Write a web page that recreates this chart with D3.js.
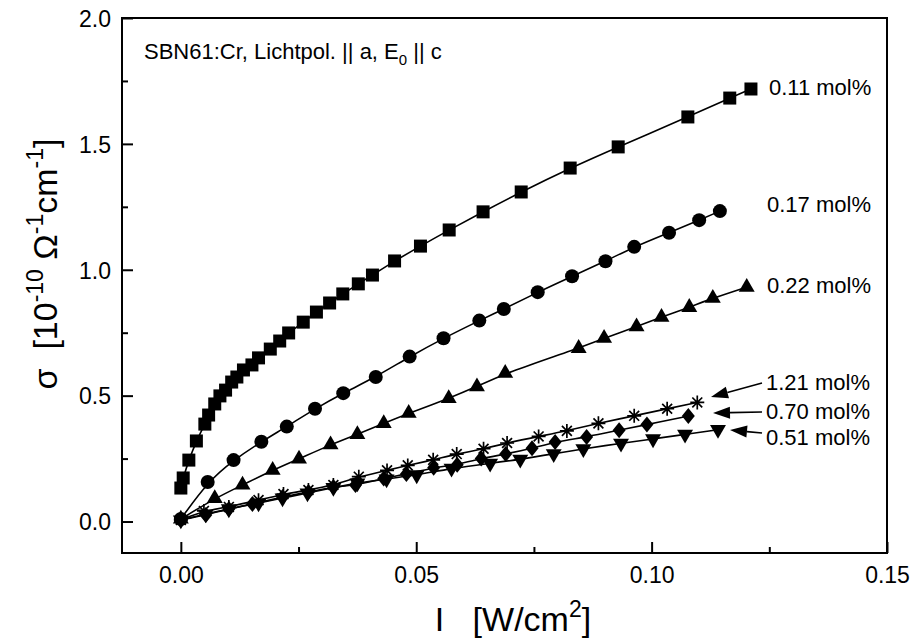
<!DOCTYPE html>
<html>
<head>
<meta charset="utf-8">
<script src="https://cdn.jsdelivr.net/npm/d3@7"></script>
<style>
  body { margin: 0; background: #fff; }
  text { font-family: Arial, "Liberation Sans", sans-serif; fill: #000; white-space: pre; }
</style>
</head>
<body>
<script>
var width = 915,
    height = 639,
    margin = {top: 18, right: 28, bottom: 86, left: 122};

// tick values
var xTicks = [0, 0.05, 0.10, 0.15],
    xMinor = [0.025, 0.075, 0.125],
    yTicks = [0, 0.5, 1.0, 1.5, 2.0],
    yMinor = [0.25, 0.75, 1.25, 1.75];

// 0.11 mol%  (squares)
var x011 = [0, 0.0005, 0.0017, 0.0033, 0.0051, 0.0059, 0.0072, 0.0083, 0.0095, 0.0108, 0.0119, 0.0133,
            0.0151, 0.0165, 0.019, 0.021, 0.0229, 0.026, 0.0288, 0.0316, 0.0344, 0.0377, 0.0407, 0.0454,
            0.0509, 0.057, 0.0642, 0.0723, 0.0827, 0.0929, 0.1077, 0.1166, 0.1211];
var y011 = [0.133, 0.173, 0.244, 0.32, 0.387, 0.423, 0.467, 0.499, 0.522, 0.554, 0.574, 0.602,
            0.622, 0.65, 0.685, 0.717, 0.749, 0.792, 0.832, 0.868, 0.904, 0.944, 0.979, 1.035,
            1.094, 1.158, 1.23, 1.309, 1.404, 1.488, 1.607, 1.682, 1.718];

// 0.17 mol%  (circles)
var x017 = [0, 0.0057, 0.0112, 0.0171, 0.0225, 0.0285, 0.0345, 0.0414, 0.0486, 0.0558,
            0.0634, 0.0686, 0.0758, 0.0831, 0.0902, 0.0963, 0.1037, 0.1101, 0.1145];
var y017 = [0.01, 0.157, 0.244, 0.317, 0.377, 0.448, 0.51, 0.574, 0.655, 0.728,
            0.798, 0.844, 0.911, 0.974, 1.034, 1.091, 1.147, 1.197, 1.233];

// 0.22 mol%  (triangles)
var x022 = [0, 0.0072, 0.0131, 0.0195, 0.0251, 0.0318, 0.0375, 0.0431, 0.0484, 0.0569,
            0.0629, 0.0689, 0.0845, 0.0899, 0.0968, 0.1021, 0.108, 0.113, 0.1202];
var y022 = [0.01, 0.092, 0.145, 0.204, 0.249, 0.305, 0.346, 0.39, 0.43, 0.489,
            0.536, 0.589, 0.688, 0.728, 0.774, 0.812, 0.851, 0.887, 0.931];

// 1.21 mol%  (asterisks)
var x121 = [0, 0.0049, 0.0102, 0.0165, 0.0218, 0.0271, 0.0324, 0.0378, 0.0438, 0.0482,
            0.0536, 0.0586, 0.0643, 0.0693, 0.076, 0.082, 0.0887, 0.0963, 0.1033, 0.1097];
var y121 = [0.006, 0.042, 0.058, 0.085, 0.109, 0.125, 0.145, 0.178, 0.203, 0.223,
            0.245, 0.268, 0.289, 0.312, 0.338, 0.36, 0.39, 0.42, 0.448, 0.473];

// 0.70 mol%  (diamonds)
var x070 = [0, 0.0053, 0.0102, 0.0152, 0.0216, 0.0271, 0.0324, 0.0371, 0.0431, 0.0479,
            0.0537, 0.0587, 0.0638, 0.069, 0.0746, 0.0795, 0.0862, 0.0931, 0.099, 0.1078];
var y070 = [0.006, 0.026, 0.05, 0.07, 0.097, 0.117, 0.137, 0.145, 0.171, 0.189,
            0.214, 0.226, 0.25, 0.268, 0.291, 0.316, 0.336, 0.363, 0.385, 0.419];

// 0.51 mol%  (down triangles)
var x051 = [0, 0.0053, 0.0102, 0.0165, 0.0216, 0.0269, 0.0324, 0.0375, 0.0437, 0.0501,
            0.0575, 0.0657, 0.0721, 0.0792, 0.0855, 0.0935, 0.1003, 0.1071, 0.1141];
var y051 = [0.006, 0.03, 0.05, 0.073, 0.093, 0.113, 0.135, 0.153, 0.169, 0.185,
            0.211, 0.231, 0.247, 0.269, 0.289, 0.311, 0.328, 0.346, 0.365];

var names = ["0.11 mol%", "0.17 mol%", "0.22 mol%", "1.21 mol%", "0.70 mol%", "0.51 mol%"];

var series = [
  {name: names[0], xs: x011, ys: y011, sym: "square"},
  {name: names[1], xs: x017, ys: y017, sym: "circle"},
  {name: names[2], xs: x022, ys: y022, sym: "triangle"},
  {name: names[3], xs: x121, ys: y121, sym: "star"},
  {name: names[4], xs: x070, ys: y070, sym: "diamond"},
  {name: names[5], xs: x051, ys: y051, sym: "down"}
];

var svg = d3.select("body").append("svg")
    .attr("width", width)
    .attr("height", height);

var x = d3.scaleLinear().domain([-0.0125, 0.15]).range([margin.left, width - margin.right]);
var y = d3.scaleLinear().domain([-0.125, 2.0]).range([height - margin.bottom, margin.top]);

// frame
svg.append("rect")
    .attr("x", x.range()[0]).attr("y", y.range()[1])
    .attr("width", x.range()[1] - x.range()[0])
    .attr("height", y.range()[0] - y.range()[1])
    .attr("fill", "none").attr("stroke", "#000").attr("stroke-width", 2);

// axes, ticks pointing inward
var xAxis = svg.append("g")
    .attr("transform", "translate(0," + y.range()[0] + ")")
    .call(d3.axisBottom(x).tickValues(xTicks).tickSize(-11).tickFormat(d3.format(".2f")));
svg.append("g")
    .attr("transform", "translate(0," + y.range()[0] + ")")
    .call(d3.axisBottom(x).tickValues(xMinor).tickSize(-6).tickFormat(""));

var yAxis = svg.append("g")
    .attr("transform", "translate(" + x.range()[0] + ",0)")
    .call(d3.axisLeft(y).tickValues(yTicks).tickSize(-11).tickFormat(d3.format(".1f")));
svg.append("g")
    .attr("transform", "translate(" + x.range()[0] + ",0)")
    .call(d3.axisLeft(y).tickValues(yMinor).tickSize(-6).tickFormat(""));

svg.selectAll(".domain").remove();
svg.selectAll(".tick line").attr("stroke", "#000").attr("stroke-width", 2);
xAxis.selectAll(".tick text").attr("dy", 0).attr("y", 30).style("font-size", "23px")
    .style("font-family", "Arial, 'Liberation Sans', sans-serif");
yAxis.selectAll(".tick text").attr("x", -11).attr("dy", "0.36em").style("font-size", "23px")
    .style("font-family", "Arial, 'Liberation Sans', sans-serif");

// data lines
var line = d3.line()
    .x(function(d) { return x(d[0]); })
    .y(function(d) { return y(d[1]); })
    .curve(d3.curveBasis);

var symSize = 13;
function marker(sel, kind) {
  var s = symSize;
  if (kind === "square") {
    sel.append("rect").attr("x", -s / 2).attr("y", -s / 2).attr("width", s).attr("height", s);
  } else if (kind === "circle") {
    sel.append("circle").attr("r", 7);
  } else if (kind === "triangle") {
    sel.append("path").attr("d", d3.symbol(d3.symbolTriangle, 110)());
  } else if (kind === "down") {
    sel.append("path").attr("d", d3.symbol(d3.symbolTriangle, 110)()).attr("transform", "rotate(180)");
  } else if (kind === "diamond") {
    sel.append("path").attr("d", "M0,-8L6.5,0L0,8L-6.5,0Z");
  } else if (kind === "star") {
    var r = 7, p = "";
    for (var k = 0; k < 4; k++) {
      var a = k * Math.PI / 4;
      p += "M" + (r * Math.sin(a)) + "," + (-r * Math.cos(a)) + "L" + (-r * Math.sin(a)) + "," + (r * Math.cos(a));
    }
    sel.append("path").attr("d", p).attr("fill", "none").attr("stroke", "#000").attr("stroke-width", 1.7);
  }
}

series.forEach(function(s) {
  var pts = s.xs.map(function(v, i) { return [v, s.ys[i]]; });
  svg.append("path")
      .datum(pts)
      .attr("d", line)
      .attr("fill", "none")
      .attr("stroke", "#000")
      .attr("stroke-width", 1.6);
  svg.append("g").selectAll("g")
      .data(pts)
      .enter().append("g")
      .attr("transform", function(d) { return "translate(" + x(d[0]) + "," + y(d[1]) + ")"; })
      .attr("fill", "#000")
      .each(function() { marker(d3.select(this), s.sym); });
});

// curve labels
var labelPos = [[769, 95], [767, 212], [767, 293], [766, 390], [766, 419], [766, 445]];
names.forEach(function(n, i) {
  svg.append("text")
      .attr("x", labelPos[i][0]).attr("y", labelPos[i][1])
      .style("font-size", "22px")
      .text(n);
});

// arrows for the three lower labels
var arrows = [[[762, 383], [711, 397]], [[762, 412], [713, 413]], [[762, 433], [730, 430]]];
arrows.forEach(function(a) {
  var x0 = a[0][0], y0 = a[0][1], x1 = a[1][0], y1 = a[1][1];
  var ang = Math.atan2(y1 - y0, x1 - x0), hl = 17, hw = 6;
  var bx = x1 - hl * Math.cos(ang), by = y1 - hl * Math.sin(ang);
  svg.append("line").attr("x1", x0).attr("y1", y0).attr("x2", bx).attr("y2", by)
      .attr("stroke", "#000").attr("stroke-width", 1.6);
  svg.append("path")
      .attr("d", "M" + x1 + "," + y1 +
                 "L" + (bx + hw * Math.sin(ang)) + "," + (by - hw * Math.cos(ang)) +
                 "L" + (bx - hw * Math.sin(ang)) + "," + (by + hw * Math.cos(ang)) + "Z")
      .attr("fill", "#000");
});

// sample annotation
var ann = svg.append("text").attr("x", 144).attr("y", 59).style("font-size", "22px");
ann.append("tspan").text("SBN61:Cr, Lichtpol. || a, E");
ann.append("tspan").attr("dy", 6).style("font-size", "15px").text("0");
ann.append("tspan").attr("dy", -6).text(" || c");

// axis titles
var xt = svg.append("text")
    .attr("x", 513).attr("y", 631)
    .attr("text-anchor", "middle")
    .style("font-size", "34px");
xt.append("tspan").text("I   [W/cm");
xt.append("tspan").attr("dy", -14).style("font-size", "23px").text("2");
xt.append("tspan").attr("dy", 14).text("]");

var yt = svg.append("text")
    .attr("transform", "translate(57,264) rotate(-90)")
    .attr("text-anchor", "middle")
    .style("font-size", "34px");
yt.append("tspan").text("\u03c3  [10");
yt.append("tspan").attr("dy", -14).style("font-size", "23px").text("-10");
yt.append("tspan").attr("dy", 14).text(" \u03a9");
yt.append("tspan").attr("dy", -14).style("font-size", "23px").text("-1");
yt.append("tspan").attr("dy", 14).text("cm");
yt.append("tspan").attr("dy", -14).style("font-size", "23px").text("-1");
yt.append("tspan").attr("dy", 14).text("]");
</script>
</body>
</html>
